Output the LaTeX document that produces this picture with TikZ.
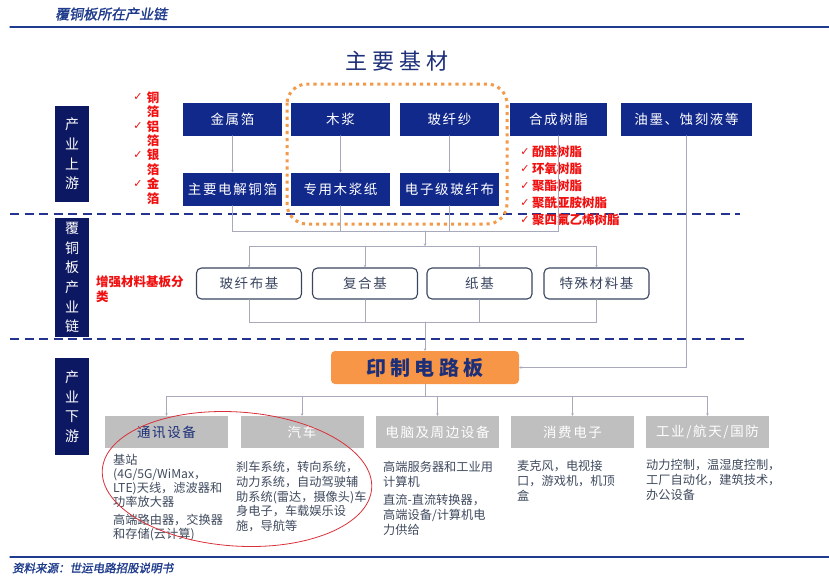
\documentclass[tikz,border=0pt]{standalone}
\usepackage{fontspec}
\setmainfont{Noto Sans CJK SC}
\newfontfamily\boxfont{Noto Sans CJK SC}[LetterSpace=12]
\newfontfamily\widefont{Noto Sans CJK SC}[LetterSpace=22]
\newfontfamily\slfont{Noto Sans CJK SC}[FakeSlant=0.18,FakeBold=1.5]
\newfontfamily\symfont{DejaVu Sans}
\usepackage{tikz}
\usetikzlibrary{arrows.meta}
\usepackage{xcolor}

\definecolor{navy}{HTML}{12298C}
\definecolor{sidenavy}{HTML}{0D1862}
\definecolor{titleblue}{HTML}{1C2F78}
\definecolor{headblue}{HTML}{1F3B8C}
\definecolor{dashblue}{HTML}{24338F}
\definecolor{redtext}{HTML}{F01010}
\definecolor{dotorange}{HTML}{F2994A}
\definecolor{pcborange}{HTML}{F79646}
\definecolor{boxgray}{HTML}{BFBFBF}
\definecolor{lineg}{HTML}{A8AABB}
\definecolor{desctext}{HTML}{3F4A5E}
\definecolor{framegray}{HTML}{3A4560}
\definecolor{ellred}{HTML}{D9303A}

\begin{document}
\begin{tikzpicture}[x=1pt,y=-1pt,line cap=round,
  topbox/.style={fill=navy,text=white,minimum width=99pt,minimum height=33pt,inner sep=0pt,
    font=\boxfont\fontsize{13.5}{16}\selectfont},
  sidebox/.style={fill=sidenavy,text=white,minimum width=34pt,inner sep=0pt,align=center,
    font=\fontsize{14}{19.6}\selectfont},
  basebox/.style={draw=framegray,line width=1.1pt,fill=white,rounded corners=5pt,
    minimum width=105pt,minimum height=31pt,inner sep=0pt,text=framegray,
    font=\boxfont\fontsize{13.5}{16}\selectfont},
  usebox/.style={fill=boxgray,text=white,minimum width=123pt,minimum height=32pt,inner sep=0pt,
    font=\boxfont\fontsize{13.5}{16}\selectfont},
  desc/.style={anchor=north west,inner sep=0pt,align=left,text=desctext,
    font=\fontsize{12.2}{14.8}\selectfont},
  redlist/.style={text=redtext,inner sep=0pt,font=\bfseries\fontsize{12.5}{14.4}\selectfont},
  tick/.style={text=redtext,inner sep=0pt,font=\symfont\fontsize{11}{12}\selectfont},
  conn/.style={draw=lineg,line width=0.6pt},
  arr/.style={conn,-{Stealth[length=2.5pt,width=2.5pt]}},
  dashline/.style={draw=dashblue,line width=1.5pt,dash pattern=on 9pt off 5.5pt,line cap=butt}]
\useasboundingbox (0,0) rectangle (829,582);

% header and footer
\draw[headblue,line width=1.2pt] (10,27) -- (829,27);
\node[anchor=west,inner sep=0pt,text=headblue,font=\slfont\fontsize{14}{16}\selectfont] (head) at (55,14) {覆铜板所在产业链};
\draw[headblue,line width=1.2pt] (10,557) -- (829,557);
\node[anchor=west,inner sep=0pt,text=headblue,font=\slfont\fontsize{11.5}{13}\selectfont] (src) at (12,568) {资料来源：世运电路招股说明书};

% title
\node[text=titleblue,inner sep=0pt,font=\widefont\fontsize{22}{24}\selectfont] (title) at (397,61) {主要基材};

% side labels
\node[sidebox,minimum height=96pt] (up) at (72,154) {产\\业\\上\\游};
\node[sidebox,minimum height=119pt] (mid) at (72,277.5) {覆\\铜\\板\\产\\业\\链};
\node[sidebox,minimum height=97pt] (down) at (72,406.5) {产\\业\\下\\游};

% section dividers
\draw[dashline] (10,214) -- (740,214);
\draw[dashline] (10,339) -- (748,339);

% raw materials
\node[topbox] (jsb) at (232.5,119) {金属箔};
\node[topbox] (mj) at (340.5,119) {木浆};
\node[topbox] (bxs) at (449.5,119) {玻纤纱};
\node[topbox,minimum width=97pt] (hcsz) at (558.5,119) {合成树脂};
\node[topbox,minimum width=131pt] (ym) at (686.5,119) {油墨、蚀刻液等};
\node[topbox] (dj) at (232.5,189) {主要电解铜箔};
\node[topbox] (mjz) at (340.5,189) {专用木浆纸};
\node[topbox] (bxb) at (449.5,189) {电子级玻纤布};

% main substrates frame
\draw[dotorange,line width=3pt,dash pattern=on 0.1pt off 7pt,line cap=rect,rounded corners=20pt] (287,84) rectangle (507,224);

% metal foils
\node[redlist,align=center,font=\bfseries\fontsize{12.5}{14.4}\selectfont] (foil) at (153,148) {铜\\箔\\铝\\箔\\银\\箔\\金\\箔};
\foreach \y in {97,126,155,184}
  \node[tick] at (138,\y) {✓};

% resins
\foreach \y/\t in {152/酚醛树脂,169/环氧树脂,186/聚酯树脂,203/聚酰亚胺树脂,220/聚四氟乙烯树脂}{
  \node[tick] at (525,\y) {✓};
  \node[redlist,anchor=west] at (532,\y) {\t};
}

% substrate classes
\node[redlist,anchor=north west,align=left,font=\bfseries\fontsize{12.5}{15}\selectfont] (cls) at (96,276) {增强材料基板分\\类};
\node[basebox] (s1) at (249,283.5) {玻纤布基};
\node[basebox] (s2) at (365,283.5) {复合基};
\node[basebox] (s3) at (479.5,283.5) {纸基};
\node[basebox] (s4) at (596.5,283.5) {特殊材料基};

% pcb
\node[fill=pcborange,rounded corners=4pt,minimum width=188pt,minimum height=33pt,inner sep=0pt,
  text=titleblue,font=\widefont\bfseries\fontsize{20}{22}\selectfont] (pcb) at (425,367.5) {印制电路板};

% applications
\node[usebox,text=titleblue] (d1) at (166.5,432) {通讯设备};
\node[usebox] (d2) at (302,432) {汽车};
\node[usebox] (d3) at (437.5,432) {电脑及周边设备};
\node[usebox] (d4) at (572.5,432) {消费电子};
\node[usebox] (d5) at (707.5,432) {工业/航天/国防};

\node[desc,font=\fontsize{12.2}{14}\selectfont] (t1a) at (113,454) {基站\\(4G/5G/WiMax，\\LTE)天线，滤波器和\\功率放大器};
\node[desc,font=\fontsize{12.2}{14}\selectfont] (t1b) at (113,514) {高端路由器，交换器\\和存储(云计算)};
\node[desc] (t2) at (236,461) {刹车系统，转向系统，\\动力系统，自动驾驶辅\\助系统(雷达，摄像头)车\\身电子，车载娱乐设\\施，导航等};
\node[desc] (t3a) at (383,461) {高端服务器和工业用\\计算机};
\node[desc] (t3b) at (383,494) {直流-直流转换器，\\高端设备/计算机电\\力供给};
\node[desc] (t4) at (517,460) {麦克风，电视接\\口，游戏机，机顶\\盒};
\node[desc] (t5) at (646,459) {动力控制，温湿度控制，\\工厂自动化，建筑技术，\\办公设备};

\draw[ellred,line width=0.8pt,rotate around={-4:(237,479)}] (237,479) ellipse [x radius=135, y radius=67];

% connectors
\draw[arr] (jsb) -- (dj);
\draw[arr] (mj) -- (mjz);
\draw[arr] (bxs) -- (bxb);
\coordinate (j1) at (425,231);
\coordinate (j2) at (425,246);
\coordinate (j3) at (425,322);
\coordinate (j4) at (425,396);
\foreach \n in {dj,mjz,bxb,hcsz}
  \draw[conn] (\n.south) |- (j1);
\draw[arr] (j1) -- (j2);
\foreach \n in {s1,s2,s3,s4}{
  \draw[arr] (j2) -| (\n.north);
  \draw[conn] (\n.south) |- (j3);
}
\draw[arr] (j3) -- (pcb);
\draw[arr] (ym.south) |- (pcb.east);
\draw[conn] (pcb) -- (j4);
\foreach \n in {d1,d2,d3,d4,d5}
  \draw[arr] (j4) -| (\n.north);
\end{tikzpicture}
\end{document}
